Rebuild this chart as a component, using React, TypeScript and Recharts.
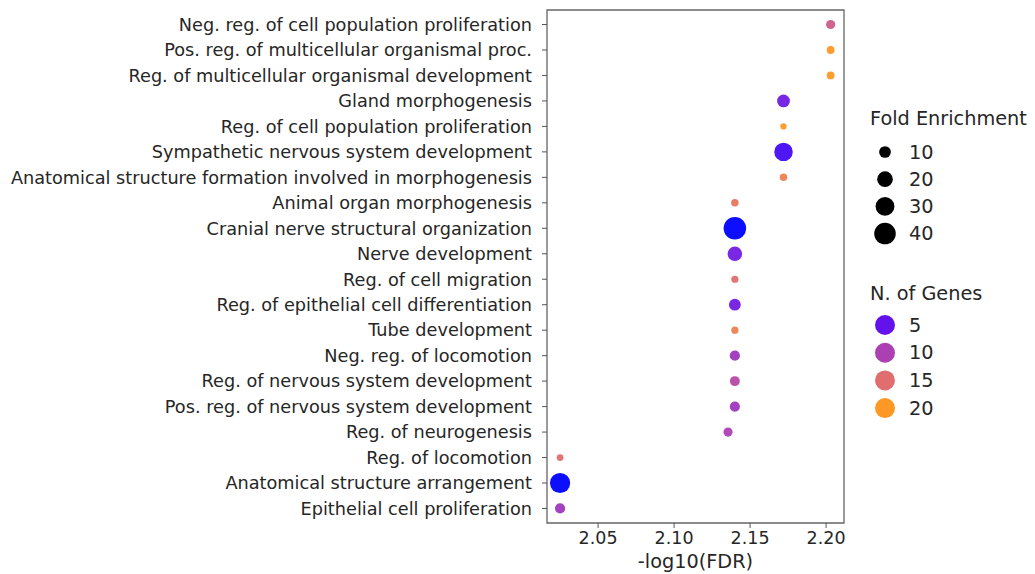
import { ScatterChart, Scatter, XAxis, YAxis, ZAxis, Cell, ReferenceArea } from 'recharts';

const terms = [
  'Neg. reg. of cell population proliferation',
  'Pos. reg. of multicellular organismal proc.',
  'Reg. of multicellular organismal development',
  'Gland morphogenesis',
  'Reg. of cell population proliferation',
  'Sympathetic nervous system development',
  'Anatomical structure formation involved in morphogenesis',
  'Animal organ morphogenesis',
  'Cranial nerve structural organization',
  'Nerve development',
  'Reg. of cell migration',
  'Reg. of epithelial cell differentiation',
  'Tube development',
  'Neg. reg. of locomotion',
  'Reg. of nervous system development',
  'Pos. reg. of nervous system development',
  'Reg. of neurogenesis',
  'Reg. of locomotion',
  'Anatomical structure arrangement',
  'Epithelial cell proliferation',
];
const negLogFdr = [
  2.203, 2.203, 2.203, 2.172, 2.172, 2.172, 2.172, 2.14, 2.14, 2.14,
  2.14, 2.14, 2.14, 2.14, 2.14, 2.14, 2.1355, 2.025, 2.025, 2.025,
];
const foldEnrichment = [5.2, 3, 3, 12.5, 1, 28.8, 2.6, 2.6, 43.9, 16.7, 2.2, 10.2, 2.2, 7, 6.5, 7, 5.2, 1.7, 34.9, 7];
const nGenes = [13, 20, 20, 6, 20, 4, 17, 16, 2, 6, 15, 6, 17, 9, 11, 9, 10, 15, 2, 9];

const xTicks = [2.05, 2.1, 2.15, 2.2];
const sizeLegend = [10, 20, 30, 40];
const genesLegend = [5, 10, 15, 20];

// marker area grows linearly with fold enrichment, with a minimum size
const AREA_MIN = 22;
const AREA_PER_FE = 8.56;
const FONT = '"DejaVu Sans", sans-serif';
const TEXT = '#262626';

const geneStops: [number, number[]][] = [
  [2, [0, 0, 255]],
  [5, [100, 18, 236]],
  [10, [172, 64, 178]],
  [15, [224, 110, 110]],
  [20, [255, 152, 36]],
];

function geneColor(n: number) {
  if (n <= geneStops[0][0]) return `rgb(${geneStops[0][1].join(',')})`;
  for (let i = 1; i < geneStops.length; i++) {
    const [n1, c1] = geneStops[i];
    const [n0, c0] = geneStops[i - 1];
    if (n <= n1) {
      const t = (n - n0) / (n1 - n0);
      const c = c0.map((v, k) => Math.round(v + (c1[k] - v) * t));
      return `rgb(${c.join(',')})`;
    }
  }
  return `rgb(${geneStops[geneStops.length - 1][1].join(',')})`;
}

const data = terms.map((term, i) => ({
  idx: i,
  term,
  x: negLogFdr[i],
  fe: foldEnrichment[i],
  genes: nGenes[i],
}));

const radius = (fe: number) => Math.sqrt((AREA_MIN + fe * AREA_PER_FE) / Math.PI);

function SideLegend() {
  const left = 870;
  return (
    <svg width={1035} height={574} style={{ position: 'absolute', left: 0, top: 0, pointerEvents: 'none' }}>
      <g fontFamily={FONT} fill={TEXT} fontSize={19.3}>
        <text x={left} y={118} dominantBaseline="central">Fold Enrichment</text>
        {sizeLegend.map((v, i) => (
          <g key={v}>
            <circle cx={885} cy={152 + i * 27.2} r={radius(v)} fill="#000" />
            <text x={909} y={152 + i * 27.2} dominantBaseline="central">{v}</text>
          </g>
        ))}
        <text x={left} y={293} dominantBaseline="central">N. of Genes</text>
        {genesLegend.map((v, i) => (
          <g key={v}>
            <circle cx={885} cy={325 + i * 27.7} r={10} fill={geneColor(v)} />
            <text x={909} y={325 + i * 27.7} dominantBaseline="central">{v}</text>
          </g>
        ))}
      </g>
    </svg>
  );
}

export default function App() {
  return (
    <div style={{ position: 'relative', width: 1035, height: 574, background: '#fff' }}>
      <style>{'body{margin:0}'}</style>
      <ScatterChart width={1035} height={574} margin={{ top: 10, right: 191, bottom: 0, left: 0 }}>
        <XAxis
          type="number"
          dataKey="x"
          domain={[2.0164, 2.2118]}
          ticks={xTicks}
          tickFormatter={(v: number) => v.toFixed(2)}
          height={51}
          tickSize={5}
          tickMargin={4}
          axisLine={false}
          tickLine={{ stroke: '#555' }}
          tick={{ fontSize: 17.5, fill: TEXT, fontFamily: FONT }}
          label={{ value: '-log10(FDR)', position: 'insideBottom', offset: 6, fontSize: 19.3, fill: TEXT, fontFamily: FONT }}
          allowDataOverflow
        />
        <YAxis
          type="number"
          dataKey="idx"
          domain={[-0.57, 19.57]}
          ticks={terms.map((_, i) => i)}
          interval={0}
          reversed
          width={547}
          tickSize={5}
          tickMargin={10}
          axisLine={false}
          tickLine={{ stroke: '#555' }}
          tickFormatter={(v: number) => terms[v] ?? ''}
          tick={{ fontSize: 17.7, fill: TEXT, fontFamily: FONT }}
          allowDataOverflow
        />
        <ZAxis
          type="number"
          dataKey="fe"
          domain={[0, 50]}
          range={[AREA_MIN, AREA_MIN + 50 * AREA_PER_FE]}
        />
        <ReferenceArea
          x1={2.0164}
          x2={2.2118}
          y1={-0.57}
          y2={19.57}
          fill="none"
          stroke="#666"
          strokeWidth={1.3}
          ifOverflow="visible"
        />
        <Scatter data={data} isAnimationActive={false}>
          {data.map((d) => (
            <Cell key={d.idx} fill={geneColor(d.genes)} fillOpacity={0.95} />
          ))}
        </Scatter>
      </ScatterChart>
      <SideLegend />
    </div>
  );
}
